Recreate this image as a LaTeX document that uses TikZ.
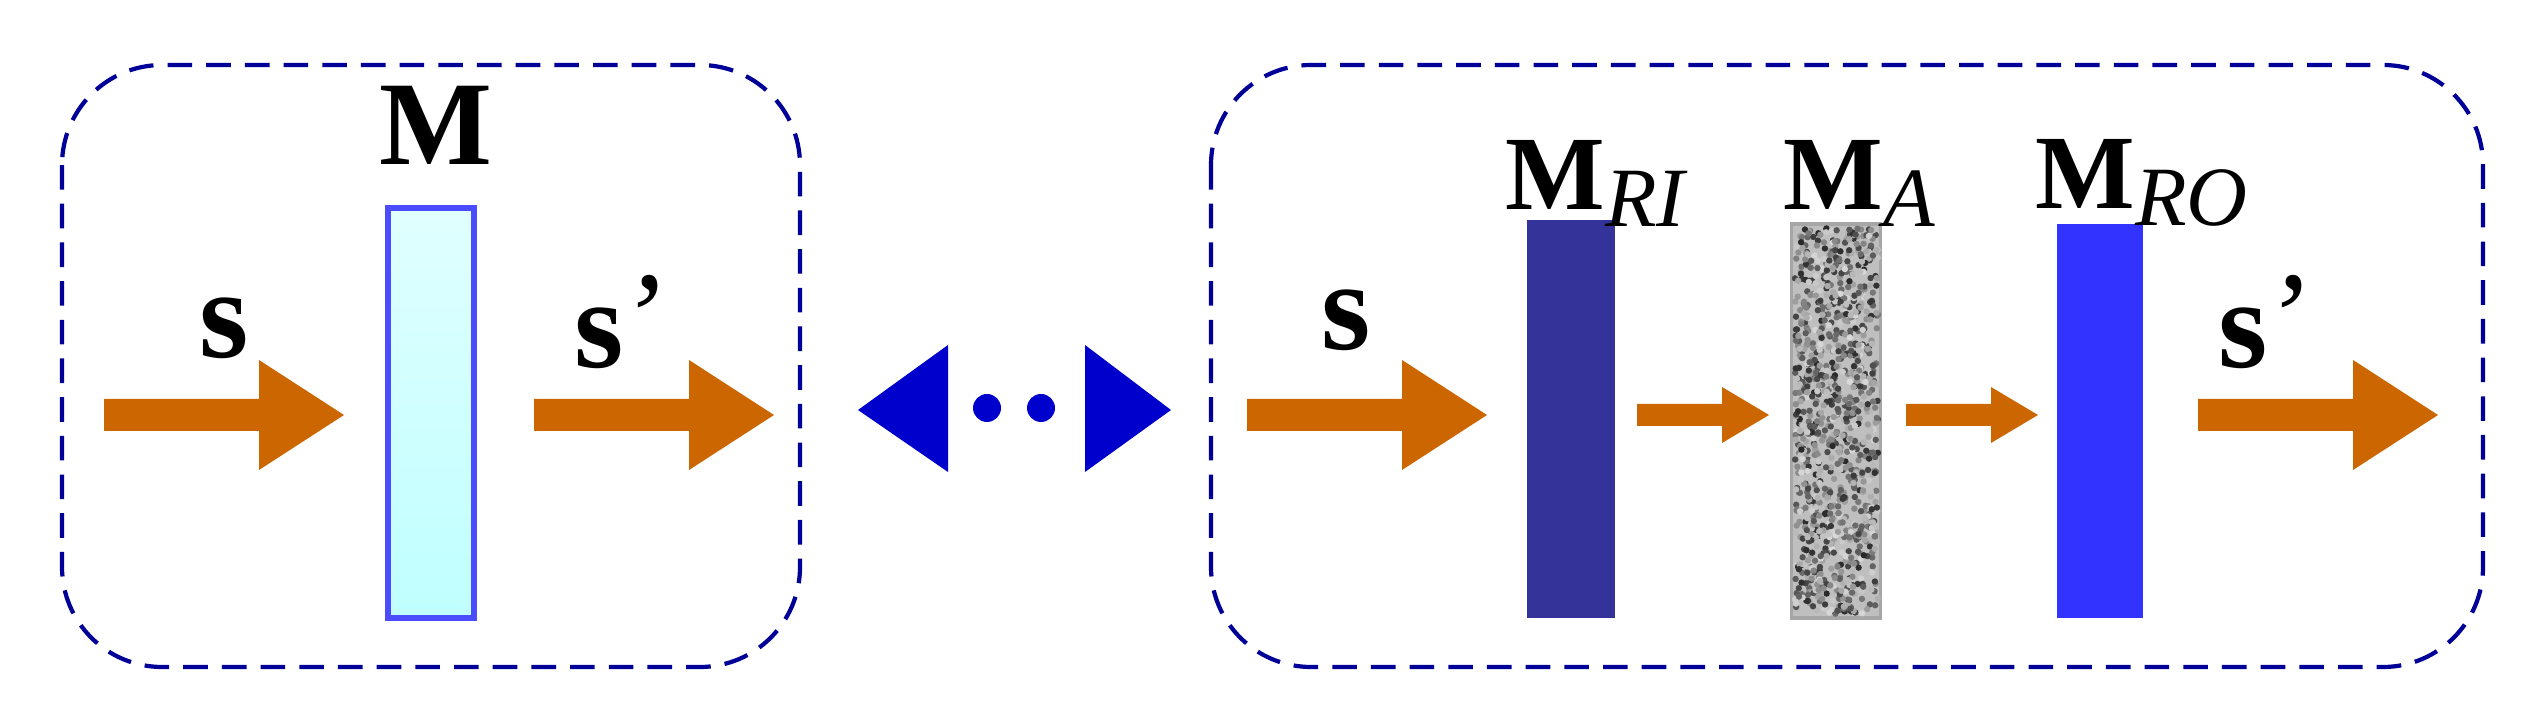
\documentclass[tikz,border=0pt]{standalone}
\usepackage{fontspec}
\setmainfont{Liberation Serif}
\begin{document}
\begin{tikzpicture}[x=0.01cm,y=-0.01cm,
  frame/.style={draw=blue!60!black,dash pattern=on 7pt off 4pt,line width=1.2pt,rounded corners=1cm},
  lbl/.style={inner sep=0pt,font=\bfseries\fontsize{36}{40}\selectfont},
  mlbl/.style={inner sep=0pt,font=\bfseries\fontsize{30}{34}\selectfont,anchor=west}]
\definecolor{arr}{RGB}{204,102,0}
\useasboundingbox (0,0) rectangle (2535,710);
% frames
\draw[frame] (62,65) rectangle (800,667);
\draw[frame] (1211,65) rectangle (2483,667);
\tikzset{bigarr/.pic={\fill[arr] (0,-16) -- (155,-16) -- (155,-55) -- (240,0) -- (155,55) -- (155,16) -- (0,16) -- cycle;},
 smallarr/.pic={\fill[arr] (0,-11) -- (85,-11) -- (85,-28) -- (132,0) -- (85,28) -- (85,11) -- (0,11) -- cycle;}}
% left panel
\node[draw=blue!70,line width=1.5pt,minimum width=0.86cm,minimum height=4.1cm,inner sep=0pt,
  top color=cyan!12,bottom color=cyan!25] (m) at (431,413) {};
\node[lbl,font=\bfseries\fontsize{34}{38}\selectfont] (mt) at (436,125) {M};
\pic at (104,415) {bigarr};
\pic at (534,415) {bigarr};
\node[lbl] (s1) at (224,328) {s};
\node[lbl] (s1p) at (618,322) {s\kern-1pt\raisebox{0.15ex}{\itshape\mdseries\textquoteright}};
% middle
\fill[blue!80!black] (858,410) -- (948,345) -- (948,472) -- cycle;
\fill[blue!80!black] (1171,410) -- (1085,345) -- (1085,472) -- cycle;
\fill[blue!80!black] (987,408) circle (14);
\fill[blue!80!black] (1041,408) circle (14);
% right panel
\pic at (1247,415) {bigarr};
\node[lbl] (s2) at (1346,320) {s};
\node[fill={rgb,255:red,51;green,51;blue,153},minimum width=0.87cm,minimum height=3.98cm,inner sep=0pt] (mri) at (1571,419) {};
\node[draw=gray!70,line width=1pt,fill=gray!50,minimum width=0.89cm,minimum height=3.94cm,inner sep=0pt] (ma) at (1836,421) {};
\pgfmathsetseed{7}
\foreach \i in {1,...,1100}{
  \pgfmathsetmacro{\xx}{1795+83*rnd}\pgfmathsetmacro{\yy}{228+386*rnd}\pgfmathsetmacro{\g}{int(15+70*rnd)}
  \fill[black!\g] (\xx,\yy) circle (3.2);}
\node[fill={rgb,255:red,51;green,51;blue,255},minimum width=0.86cm,minimum height=3.94cm,inner sep=0pt] (mro) at (2100,421) {};
\pic at (1637,415) {smallarr};
\pic at (1906,415) {smallarr};
\pic at (2198,415) {bigarr};
\node[lbl] (s2p) at (2262,322) {s\kern-1pt\raisebox{0.15ex}{\itshape\mdseries\textquoteright}};
\node[mlbl] (lri) at (1505,183) {M\raisebox{-0.35ex}{\itshape\mdseries\fontsize{24}{26}\selectfont RI}};
\node[mlbl] (la) at (1783,183) {M\raisebox{-0.35ex}{\itshape\mdseries\fontsize{24}{26}\selectfont A}};
\node[mlbl] (lro) at (2035,183) {M\raisebox{-0.35ex}{\itshape\mdseries\fontsize{24}{26}\selectfont RO}};
\end{tikzpicture}
\end{document}
